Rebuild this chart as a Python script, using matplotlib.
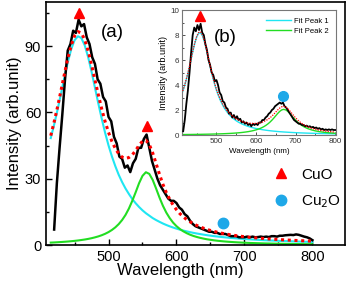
import numpy as np
import matplotlib
matplotlib.use("Agg")
import matplotlib.pyplot as plt
from matplotlib.lines import Line2D
from matplotlib.ticker import MultipleLocator

plt.rcParams['font.family'] = ['Liberation Sans', 'DejaVu Sans']

# ---------------- main panel (a) data ----------------
meas_wl = list(range(420, 801, 4))
meas_a = [7, 28, 44, 59, 75, 88, 91, 97, 96, 102, 99, 100, 94, 91, 85, 82, 75, 73, 67, 65,
          58, 56, 49, 46, 40, 39, 35, 36, 33, 37, 39, 44, 44, 48, 50, 44, 38, 34, 30, 27,
          25, 23, 21, 20, 20, 19, 17, 16, 14, 13, 11, 9.5, 8.5, 8, 7.5, 7, 6.5, 6, 6, 5.5,
          5.5, 5, 5, 5, 4.5, 4, 4, 4, 3.5, 3.5, 3.5, 3.8, 3.5, 3.8, 3.5, 3.6, 3.8, 3.6, 3.8, 3.6,
          4, 4, 3.8, 4.2, 4.2, 4.4, 4.5, 4.6, 4.5, 4.8, 4.6, 4.2, 3.8, 3.5, 3, 2.2]

fit_wl = list(range(415, 700, 5)) + list(range(700, 801, 10))
peak1_a = [48.4, 54.5, 61.2, 68.4, 75.7, 82.6, 88.5, 92.7, 94.5, 93.7, 90.4, 85.1, 78.5, 71.3,
           64.1, 57.2, 50.8, 45.1, 40.1, 35.7, 31.8, 28.5, 25.6, 23.1, 20.8, 18.9, 17.2, 15.7,
           14.4, 13.3, 12.2, 11.3, 10.5, 9.74, 9.07, 8.46, 7.92, 7.42, 6.96, 6.55, 6.17, 5.82,
           5.50, 5.21, 4.94, 4.69, 4.45, 4.24, 4.03, 3.85, 3.67, 3.51, 3.36, 3.21, 3.08, 2.95,
           2.83, 2.72, 2.52, 2.34, 2.17, 2.02, 1.89, 1.77, 1.66, 1.56, 1.47, 1.39]
peak2_a = [1.09, 1.16, 1.25, 1.35, 1.46, 1.58, 1.72, 1.87, 2.05, 2.26, 2.49, 2.76, 3.08, 3.46,
           3.90, 4.43, 5.07, 5.85, 6.81, 7.99, 9.46, 11.3, 13.6, 16.5, 20.0, 23.9, 28.0, 31.3,
           32.95, 32.2, 29.5, 25.6, 21.5, 17.8, 14.7, 12.2, 10.15, 8.54, 7.25, 6.21, 5.37, 4.67,
           4.10, 3.63, 3.23, 2.89, 2.59, 2.35, 2.13, 1.94, 1.78, 1.63, 1.50, 1.39, 1.29, 1.20,
           1.12, 1.04, 0.91, 0.81, 0.72, 0.65, 0.58, 0.53, 0.48, 0.44, 0.40, 0.37]
total_a = [49.5, 55.7, 62.5, 69.8, 77.2, 84.2, 90.2, 94.6, 96.6, 96.0, 92.9, 87.9, 81.6, 74.8,
           68.0, 61.6, 55.9, 51.0, 46.9, 43.7, 41.3, 39.8, 39.2, 39.6, 40.8, 42.8, 45.2, 47.0,
           47.4, 45.5, 41.7, 36.9, 32.0, 27.5, 23.8, 20.7, 18.1, 16.0, 14.2, 12.8, 11.5, 10.5,
           9.6, 8.84, 8.17, 7.58, 7.04, 6.59, 6.16, 5.79, 5.45, 5.14, 4.86, 4.60, 4.37, 4.15,
           3.95, 3.76, 3.43, 3.15, 2.89, 2.67, 2.47, 2.30, 2.14, 2.00, 1.87, 1.76]

cuo_a_wl = [457, 556]
cuo_a_val = [104.8, 53.8]
cu2o_a_wl = [668]
cu2o_a_val = [10]

# ---------------- inset panel (b) data ----------------
meas_wl_b = list(range(416, 801, 4))
meas_b = [0.3, 1.2, 2.5, 3.6, 5.0, 6.6, 8.0, 8.6, 8.3, 8.8, 8.4, 8.9, 8.2, 8.0, 7.3, 6.8, 6.0,
          5.6, 5.0, 4.8, 4.3, 4.4, 4.0, 3.4, 3.2, 2.7, 2.6, 2.2, 2.1, 1.7, 1.8, 1.4, 1.6, 1.3,
          1.5, 1.2, 1.3, 1.0, 1.1, 0.9, 1.0, 0.8, 0.9, 0.7, 0.9, 0.8, 0.9, 0.8, 1.0, 1.0, 1.2,
          1.2, 1.4, 1.5, 1.7, 1.8, 2.0, 2.1, 2.3, 2.4, 2.5, 2.6, 2.5, 2.6, 2.3, 2.2, 2.0, 1.8,
          1.6, 1.4, 1.2, 1.1, 1.0, 0.9, 0.9, 0.8, 0.8, 0.7, 0.75, 0.65, 0.7, 0.6, 0.65, 0.55,
          0.6, 0.5, 0.55, 0.45, 0.5, 0.4, 0.45, 0.4, 0.45, 0.4, 0.45, 0.4, 0.4]
peak1_b = [3.49, 3.99, 4.57, 5.21, 5.91, 6.63, 7.30, 7.83, 8.15, 8.18, 7.92, 7.42, 6.77, 6.06,
           5.35, 4.69, 4.10, 3.58, 3.14, 2.76, 2.43, 2.15, 1.92, 1.71, 1.54, 1.39, 1.26, 1.14,
           1.04, 0.953, 0.876, 0.807, 0.745, 0.691, 0.642, 0.597, 0.557, 0.521, 0.489, 0.459,
           0.431, 0.407, 0.384, 0.363, 0.343, 0.325, 0.309, 0.294, 0.279, 0.266, 0.254, 0.242,
           0.232, 0.222, 0.212, 0.203, 0.195, 0.187, 0.173, 0.160, 0.149, 0.139, 0.130, 0.121,
           0.114, 0.107, 0.101, 0.095]
peak2_b = [0.038, 0.039, 0.041, 0.043, 0.044, 0.046, 0.048, 0.051, 0.053, 0.055, 0.058, 0.061,
           0.064, 0.067, 0.071, 0.075, 0.079, 0.083, 0.088, 0.094, 0.099, 0.106, 0.113, 0.121,
           0.129, 0.139, 0.149, 0.161, 0.174, 0.188, 0.205, 0.224, 0.245, 0.269, 0.297, 0.329,
           0.367, 0.41, 0.461, 0.520, 0.591, 0.674, 0.773, 0.889, 1.025, 1.182, 1.357, 1.545,
           1.732, 1.895, 2.009, 2.05, 2.009, 1.895, 1.732, 1.545, 1.357, 1.182, 0.889, 0.674,
           0.520, 0.41, 0.329, 0.269, 0.224, 0.188, 0.161, 0.139]
total_b = [3.53, 4.03, 4.61, 5.25, 5.95, 6.68, 7.35, 7.88, 8.20, 8.24, 7.98, 7.48, 6.83, 6.13,
           5.42, 4.77, 4.18, 3.66, 3.23, 2.85, 2.53, 2.26, 2.03, 1.83, 1.67, 1.53, 1.41, 1.30,
           1.21, 1.14, 1.08, 1.03, 0.99, 0.96, 0.94, 0.93, 0.92, 0.93, 0.95, 0.98, 1.02, 1.08,
           1.16, 1.25, 1.37, 1.51, 1.67, 1.84, 2.01, 2.16, 2.26, 2.29, 2.24, 2.12, 1.94, 1.75,
           1.55, 1.37, 1.06, 0.83, 0.67, 0.55, 0.46, 0.39, 0.34, 0.30, 0.26, 0.23]
cuo_b_wl = [459]
cuo_b_val = [9.5]
cu2o_b_wl = [668]
cu2o_b_val = [3.15]

CYAN = '#1fe6f2'
GREEN = '#22dd22'
RED = '#ff0000'
BLUE = '#1ea8e8'

fig = plt.figure(figsize=(3.5, 2.87), dpi=100)
ax = fig.add_axes([0.1314, 0.1463, 0.8543, 0.8467])

ax.plot(fit_wl, peak1_a, color=CYAN, lw=1.5, zorder=2)
ax.plot(fit_wl, peak2_a, color=GREEN, lw=1.5, zorder=2)
ax.plot(meas_wl, meas_a, color='black', lw=1.8, zorder=3)
ax.plot(fit_wl, total_a, color=RED, lw=2.2, ls=(0, (1, 1.2)), zorder=4)
ax.plot(cuo_a_wl, cuo_a_val, ls='none', marker='^', color=RED, ms=7.5, zorder=5)
ax.plot(cu2o_a_wl, cu2o_a_val, ls='none', marker='o', color=BLUE, ms=7.5, zorder=5)

ax.set_xlim(408, 848)
ax.set_ylim(0, 110)
ax.xaxis.set_major_locator(MultipleLocator(100))
ax.xaxis.set_minor_locator(MultipleLocator(50))
ax.yaxis.set_major_locator(MultipleLocator(30))
ax.yaxis.set_minor_locator(MultipleLocator(15))
ax.tick_params(which='both', direction='in', labelsize=10.5, width=1)
ax.tick_params(which='major', length=4.5)
ax.tick_params(which='minor', length=2.5)
for s in ax.spines.values():
    s.set_linewidth(1.2)
ax.set_xlabel('Wavelength (nm)', fontsize=12)
ax.xaxis.set_label_coords(0.45, -0.074)
ax.set_ylabel('Intensity (arb.unit)', fontsize=12, labelpad=2)
ax.text(0.182, 0.875, '(a)', transform=ax.transAxes, fontsize=13.5, ha='left', va='center')

handles = [Line2D([], [], ls='none', marker='^', color=RED, ms=7.5),
           Line2D([], [], ls='none', marker='o', color=BLUE, ms=7.5)]
ax.legend(handles, ['CuO', 'Cu$_2$O'], loc='center left', bbox_to_anchor=(0.71, 0.232),
          frameon=False, fontsize=11, handletextpad=0.3, labelspacing=0.75, borderpad=0)

# ---------------- inset ----------------
axi = fig.add_axes([0.52, 0.5296, 0.44, 0.4354])
axi.plot(fit_wl, peak1_b, color=CYAN, lw=1.0, label='Fit Peak 1', zorder=2)
axi.plot(fit_wl, peak2_b, color=GREEN, lw=1.0, label='Fit Peak 2', zorder=2)
axi.plot(meas_wl_b, meas_b, color='black', lw=1.3, zorder=3)
axi.plot(fit_wl, total_b, color=RED, lw=0.9, ls=(0, (1, 1)), zorder=4)
axi.plot(cuo_b_wl, cuo_b_val, ls='none', marker='^', color=RED, ms=7, zorder=5)
axi.plot(cu2o_b_wl, cu2o_b_val, ls='none', marker='o', color=BLUE, ms=7, zorder=5)
axi.set_xlim(413, 802)
axi.set_ylim(0, 10)
axi.xaxis.set_major_locator(MultipleLocator(100))
axi.xaxis.set_minor_locator(MultipleLocator(50))
axi.yaxis.set_major_locator(MultipleLocator(2))
axi.yaxis.set_minor_locator(MultipleLocator(1))
axi.tick_params(which='both', direction='in', labelsize=5.8, width=0.6, colors='#333333', pad=2)
axi.tick_params(which='major', length=2.5)
axi.tick_params(which='minor', length=1.5)
for s in axi.spines.values():
    s.set_color('#777777')
    s.set_linewidth(0.8)
axi.set_xlabel('Wavelength (nm)', fontsize=5.8, labelpad=2)
axi.set_ylabel('Intensity (arb.unit)', fontsize=6.6, labelpad=2)
axi.text(0.21, 0.78, '(b)', transform=axi.transAxes, fontsize=13.5, ha='left', va='center')
axi.legend(loc='upper right', frameon=False, fontsize=5.5, handlelength=3.2,
           handletextpad=0.4, labelspacing=0.3, borderaxespad=0.6)

fig.savefig('out.png', dpi=100)
